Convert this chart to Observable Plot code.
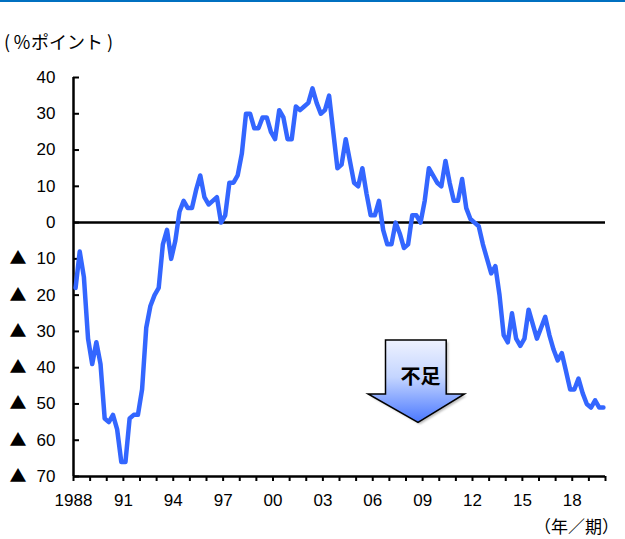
<!DOCTYPE html>
<html><head><meta charset="utf-8">
<script src="https://cdn.jsdelivr.net/npm/d3@7"></script>
<script src="https://cdn.jsdelivr.net/npm/@observablehq/plot@0.6"></script>
<style>
html,body{margin:0;padding:0;background:#fff;}
#wrap{position:relative;width:625px;height:539px;overflow:hidden;background:#fff;}
#chart{position:absolute;left:0;top:0;}
.topline{position:absolute;left:0;top:0;width:625px;height:2px;background:#0070C0;}
.lbl{position:absolute;font-family:"Noto Sans CJK JP",sans-serif;font-size:18px;line-height:18px;color:#000;white-space:nowrap;}
.lbl .p{display:inline-block;}
</style></head><body>
<div id="wrap">
<div id="chart"></div>
<div class="topline"></div>
<div class="lbl" id="ylab" style="left:4px;top:32px;"></div>
<div class="lbl" id="xunit" style="left:534px;top:517px;font-size:17px;line-height:17px;"></div>
</div>
<script>
// ---- data ----
const yearsList = [1988,1989,1990,1991,1992,1993,1994,1995,1996,1997,1998,1999,2000,2001,2002,2003,
                   2004,2005,2006,2007,2008,2009,2010,2011,2012,2013,2014,2015,2016,2017,2018,2019];
const quarterList = [1,2,3,4];
const diValues = [
  -18, -8,-15,-32,   -39,-33,-39,-54,   -55,-53,-57,-66,   -66,-54,-53,-53,
  -46,-29,-23,-20,   -18, -6, -2,-10,    -5,  3,  6,  4,     4,  9, 13,  7,
    5,  6,  7,  0,     2, 11, 11, 13,    19, 30, 30, 26,    26, 29, 29, 25,
   23, 31, 29, 23,    23, 32, 31, 32,    33, 37, 33, 30,    31, 35, 25, 15,
   16, 23, 17, 11,    10, 15,  8,  2,     2,  6, -2, -6,    -6,  0, -3, -7,
   -6,  2,  2,  0,     6, 15, 13, 11,    10, 17, 11,  6,     6, 12,  4,  1,
    0, -1, -6,-10,   -14,-12,-20,-31,   -33,-25,-32,-34,   -32,-24,-28,-32,
  -29,-26,-31,-35,   -38,-36,-41,-46,   -46,-43,-47,-50,   -51,-49,-51,-51
];
const yTicks = [40,30,20,10,0,-10,-20,-30,-40,-50,-60,-70];
const xTickYears = [1988,1989,1990,1991,1992,1993,1994,1995,1996,1997,1998,1999,2000,2001,2002,2003,2004,
                    2005,2006,2007,2008,2009,2010,2011,2012,2013,2014,2015,2016,2017,2018,2019,2020];
const xLabelYears = [1988,1991,1994,1997,2000,2003,2006,2009,2012,2015,2018];
const xLabelTexts = ["1988","91","94","97","00","03","06","09","12","15","18"];
const yAxisTitleParts = ["(", "％ポイント", ")"];
const xAxisUnit = "（年／期）";
const arrowText = "不足";
const negMark = "▲";
// arrow annotation anchor, in data units
const arrowAnchor = {xCenter: 2008.75, shaftLeft: 2006.8, shaftRight: 2010.45, headLeft: 2005.75, headRight: 2011.55,
                     top: -32.5, neck: -47.4, tip: -55.2};

// ---- table ----
const table = [];
yearsList.forEach((yr, i) => quarterList.forEach((q, j) => {
  table.push({t: yr + (q - 0.5) / 4, v: diValues[i * 4 + j]});
}));
const labelMap = new Map(xLabelYears.map((y, i) => [y, xLabelTexts[i]]));
const negTicks = yTicks.filter(v => v < 0);

const chart = Plot.plot({
  width: 625, height: 539,
  marginLeft: 73, marginRight: 20, marginTop: 77, marginBottom: 63,
  x: {domain: [1988, 2020]},
  y: {domain: [-70, 40]},
  style: {fontFamily: '"Liberation Sans","Noto Sans CJK JP",sans-serif', fontSize: "17px", color: "#000", background: "transparent", overflow: "visible"},
  marks: [
    Plot.axisX({ticks: xTickYears, tickSize: 5, tickPadding: 12, strokeWidth: 2, tickFormat: d => labelMap.get(d) ?? "", label: null, fontSize: 17}),
    Plot.axisY({ticks: yTicks, tickSize: 0, tickPadding: 18, tickFormat: v => String(Math.abs(v)), label: null, fontSize: 17}),
    Plot.text(negTicks, {x: 1988, y: d => d, text: () => negMark, dx: -47, textAnchor: "end", fontFamily: "Noto Sans CJK JP", fontSize: 17}),
    Plot.ruleY(yTicks, {x1: 1988, x2: 1988.36, stroke: "#000", strokeWidth: 2}),
    Plot.ruleY([0], {stroke: "#000", strokeWidth: 2.5}),
    Plot.ruleY([-70], {stroke: "#000", strokeWidth: 2.5}),
    Plot.ruleX([1988], {y1: -70, y2: 40, stroke: "#000", strokeWidth: 2.5}),
    Plot.line(table, {x: "t", y: "v", stroke: "#3366FF", strokeWidth: 4.5, strokeLinejoin: "round", strokeLinecap: "round"})
  ]
});
document.getElementById("chart").appendChild(chart);
const ylab = document.getElementById("ylab");
ylab.innerHTML = `<span class="p" style="margin-right:3px">${yAxisTitleParts[0]}</span>${yAxisTitleParts[1]}<span class="p" style="margin-left:4px">${yAxisTitleParts[2]}</span>`;
document.getElementById("xunit").textContent = xAxisUnit;

// ---- arrow annotation placed through the plot's scales ----
const sx = chart.scale("x"), sy = chart.scale("y");
const X = v => sx.apply(v), Y = v => sy.apply(v);
const ns = "http://www.w3.org/2000/svg";
const svg = chart.tagName.toLowerCase() === "svg" ? chart : chart.querySelector("svg");
const defs = document.createElementNS(ns, "defs");
defs.innerHTML = `<linearGradient id="arrGrad" x1="0" y1="0" x2="0" y2="1">
  <stop offset="0" stop-color="#eef2ff"/><stop offset="0.45" stop-color="#c4d5ff"/><stop offset="1" stop-color="#4a78ff"/></linearGradient>
  <filter id="arrShadow" x="-20%" y="-20%" width="140%" height="140%"><feGaussianBlur stdDeviation="1.2"/></filter>`;
svg.appendChild(defs);
const a = arrowAnchor;
const pts = [[a.shaftLeft, a.top],[a.shaftRight, a.top],[a.shaftRight, a.neck],[a.headRight, a.neck],
             [a.xCenter, a.tip],[a.headLeft, a.neck],[a.shaftLeft, a.neck]];
const d = "M" + pts.map(p => X(p[0]).toFixed(1) + "," + Y(p[1]).toFixed(1)).join("L") + "Z";
const g = document.createElementNS(ns, "g");
g.innerHTML = `<path d="${d}" transform="translate(2,2)" fill="#000" fill-opacity="0.28" filter="url(#arrShadow)"/>
<path d="${d}" fill="url(#arrGrad)" stroke="#000" stroke-width="1.5" stroke-linejoin="miter"/>
<text x="${X(a.xCenter) + 2.5}" y="${Y(-42.2)}" text-anchor="middle" dominant-baseline="central" font-family="Noto Sans CJK JP" font-weight="bold" font-size="20">${arrowText}</text>`;
svg.appendChild(g);
</script>
</body></html>
